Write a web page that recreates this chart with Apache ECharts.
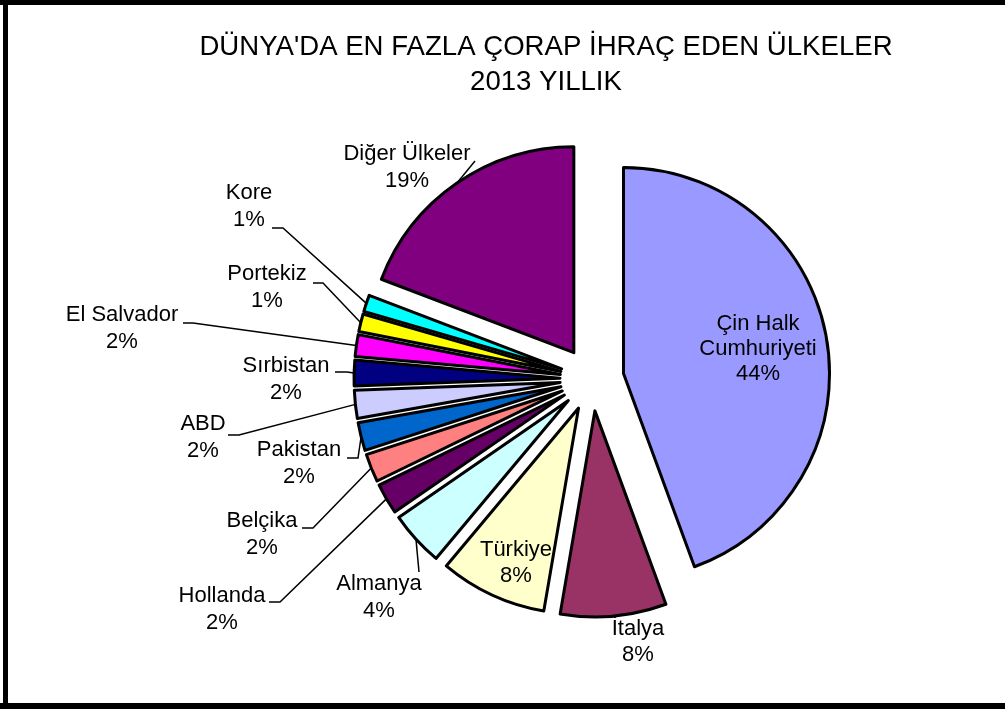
<!DOCTYPE html>
<html><head><meta charset="utf-8">
<script src="https://cdn.jsdelivr.net/npm/echarts@6/dist/echarts.min.js"></script>
<style>html,body{margin:0;padding:0;background:#fff;overflow:hidden}#c{width:1005px;height:709px}</style>
</head><body><div id="c"></div>
<script>
// ---- data ----
const countries = ['Çin Halk\nCumhuriyeti', 'İtalya', 'Türkiye', 'Almanya', 'Hollanda', 'Belçika', 'Pakistan', 'ABD', 'Sırbistan', 'El Salvador', 'Portekiz', 'Kore', 'Diğer Ülkeler'];
const shares = [44.4, 8.3, 8.4, 4.3, 2.4, 2.2, 2.2, 2.2, 2.0, 1.7, 1.4, 1.3, 19.2];
const titleLines = ["DÜNYA'DA EN FAZLA ÇORAP İHRAÇ EDEN ÜLKELER", '2013 YILLIK'];

// ---- styling / layout ----
const sliceColors = ['#9999FF', '#993366', '#FFFFCC', '#CCFFFF', '#660066', '#FF8080', '#0066CC', '#CCCCFF', '#000080', '#FF00FF', '#FFFF00', '#00FFFF', '#800080'];
const labelSpots = [[758, 349], [638, 642], [516, 563], [379, 597], [222, 609], [262, 534], [299, 463], [203, 437], [286, 379], [122, 328], [267, 287], [249, 206], [407, 167]];
const labelLineHeights = [25, 26, 26, 27, 27, 27, 27, 27, 27, 27, 27, 27, 27];
const leaderEnds = [null, null, null, [419, 572], [269, 602], [302, 528], [347, 458], [228, 435], [335, 372], [183, 323], [313, 283], [272, 228], [475, 161]];
const leaderStub = [0, 0, 0, 0, 11, 11, 11, 11, 12, 10, 10, 11, 0];
const FONT = '"Liberation Sans", Arial, sans-serif';
const PIE_CENTER = [592, 379];
const PIE_RADIUS = 206;
const EXPLODE = 32;

const chart = echarts.init(document.getElementById('c'), null, {renderer: 'canvas'});

const sliceData = countries.map((name, i) => ({
  name: name,
  value: shares[i],
  selected: true,
  itemStyle: {color: sliceColors[i]}
}));

const labelData = countries.map((name, i) => ({
  name: name,
  value: shares[i],
  label: {lineHeight: labelLineHeights[i]},
  labelLine: {show: leaderEnds[i] !== null}
}));

chart.setOption({
  backgroundColor: '#fff',
  animation: false,
  title: {
    text: titleLines.join('\n'),
    left: 546,
    top: 30,
    textAlign: 'center',
    padding: 0,
    textStyle: {fontFamily: FONT, fontSize: 27.6, fontWeight: 'normal', lineHeight: 35, color: '#000'}
  },
  graphic: [
    {type: 'rect', shape: {x: 0, y: 0, width: 1005, height: 5}, style: {fill: '#000'}, silent: true},
    {type: 'rect', shape: {x: 3, y: 0, width: 5, height: 709}, style: {fill: '#000'}, silent: true},
    {type: 'rect', shape: {x: 0, y: 703, width: 1005, height: 6}, style: {fill: '#000'}, silent: true}
  ],
  series: [{
    // exploded slices
    type: 'pie',
    center: PIE_CENTER,
    radius: PIE_RADIUS,
    startAngle: 90,
    clockwise: true,
    selectedMode: 'multiple',
    selectedOffset: EXPLODE,
    silent: true,
    emphasis: {disabled: true},
    select: {itemStyle: {borderColor: '#000', borderWidth: 3}},
    itemStyle: {borderColor: '#000', borderWidth: 3},
    label: {show: false},
    labelLine: {show: false},
    data: sliceData
  }, {
    // labels: same slices, invisible, outer edge at the exploded slices' outer edge
    type: 'pie',
    center: PIE_CENTER,
    radius: PIE_RADIUS + EXPLODE,
    startAngle: 90,
    clockwise: true,
    silent: true,
    avoidLabelOverlap: false,
    emphasis: {disabled: true},
    itemStyle: {color: 'rgba(0,0,0,0)', borderWidth: 0},
    label: {
      show: true,
      position: 'outside',
      fontFamily: FONT,
      fontSize: 22,
      lineHeight: 27,
      color: '#000',
      align: 'center',
      formatter: p => p.name + '\n' + Math.round(p.percent) + '%'
    },
    labelLine: {lineStyle: {color: '#000', width: 1.5}},
    labelLayout: function (params) {
      const i = params.dataIndex;
      const out = {x: labelSpots[i][0], y: labelSpots[i][1], align: 'center', verticalAlign: 'middle'};
      const end = leaderEnds[i];
      if (end && params.labelLinePoints) {
        const start = params.labelLinePoints[0];
        const pts = [start];
        if (leaderStub[i]) pts.push([end[0] + leaderStub[i], end[1]]);
        pts.push(end);
        out.labelLinePoints = pts;
      }
      return out;
    },
    data: labelData
  }]
});
</script>
</body></html>
